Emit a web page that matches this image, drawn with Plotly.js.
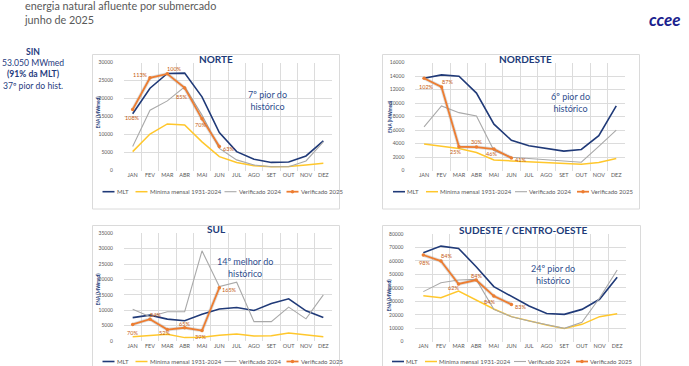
<!DOCTYPE html>
<html><head><meta charset="utf-8">
<script src="https://cdn.plot.ly/plotly-3.0.1.min.js"></script>
<style>html,body{margin:0;padding:0;background:#fff}#chart{width:689px;height:366px}</style>
</head><body><div id="chart"></div>
<script>
// ---------- data ----------
const months = ['JAN','FEV','MAR','ABR','MAI','JUN','JUL','AGO','SET','OUT','NOV','DEZ'];
const seriesNames = ['MLT','Mínima mensal 1931-2024','Verificado 2024','Verificado 2025'];

const norteMLT  = [15800, 22900, 27000, 27100, 20500, 10600, 5300, 3200, 2300, 2400, 4100, 8300];
const norteMin  = [5300, 10200, 13000, 12700, 8000, 3900, 2300, 1400, 1100, 1200, 1600, 2100];
const norte2024 = [6700, 16800, 19400, 23300, 15500, 6200, 3000, 1600, 1100, 1100, 2700, 8000];
const norte2025 = [17000, 25800, 26900, 23000, 14400, 6700];
const norteLbl  = ['108%','113%','100%','85%','70%','63%'];

const nordesteMLT  = [13700, 14200, 14000, 11500, 6900, 4500, 3700, 3300, 2900, 3150, 5200, 9600];
const nordesteMin  = [3950, 3600, 3300, 2700, 1600, 1450, 1350, 1250, 1100, 950, 1200, 1800];
const nordeste2024 = [6500, 9600, 8600, 8100, 3000, 2000, 1800, 1650, 1400, 1250, 3600, 6000];
const nordeste2025 = [13700, 12400, 3550, 3500, 3200, 1900];
const nordesteLbl  = ['102%','87%','25%','30%','46%','41%'];

const sulMLT  = [7600, 8400, 7100, 6600, 8700, 10400, 10900, 9900, 12200, 13700, 9800, 7600];
const sulMin  = [1400, 1700, 2200, 1100, 1200, 1900, 2300, 1600, 1700, 2600, 2000, 1400];
const sul2024 = [10300, 7900, 9500, 9500, 29300, 17700, 19100, 6300, 6300, 11000, 7200, 15000];
const sul2025 = [5400, 7100, 3700, 4300, 3400, 17300];
const sulLbl  = ['70%','84%','52%','65%','39%','165%'];

const sudesteMLT  = [66100, 71000, 69300, 55700, 40900, 33400, 26500, 21000, 20300, 24000, 31500, 47800];
const sudesteMin  = [34200, 32700, 37600, 31000, 24300, 18600, 15400, 12400, 9900, 12900, 18600, 20800];
const sudeste2024 = [37200, 43800, 45800, 46300, 24000, 18600, 15400, 12400, 9900, 14400, 32500, 53300];
const sudeste2025 = [64400, 59900, 42900, 45800, 33900, 27700];
const sudesteLbl  = ['98%','84%','62%','84%','84%','83%'];

const panelTitles = ['NORTE','NORDESTE','SUL','SUDESTE / CENTRO-OESTE'];
const panelNotes  = ['7º pior do<br>histórico','6º pior do<br>histórico','14º melhor do<br>histórico','24º pior do<br>histórico'];
const axisTitle = 'ENA (MWmed)';
const headerText = 'energia natural afluente por submercado<br>junho de 2025';
const sinText = '<b>SIN</b><br>53.050 MWmed<br><b>(91% da MLT)</b><br>37º pior do hist.';

// ---------- style / layout config ----------
const W = 689, H = 366;
const C = {navy:'#203A78', yellow:'#FFC72C', gray:'#A9A9A9', orange:'#ED7D31', lbl:'#C55A11', grid:'#DCDCDC', tick:'#595959', note:'#2F4E8E'};
const FONT = 'Lato, "Open Sans", sans-serif';
const xd = (a,b)=>[a/W, b/W];
const yd = (t,b)=>[1-b/H, 1-t/H];
const seriesStyle = [
  {color:C.navy, width:1.6}, {color:C.yellow, width:1.5}, {color:C.gray, width:1.1}, {color:C.orange, width:1.8}
];
const legOffsets = [0, 33, 122, 184];   // legend entry offsets (px) within each panel legend
const legIcon = 12;

const panels = [
  {ax:'', mlt:norteMLT, min:norteMin, v24:norte2024, v25:norte2025, lbl:norteLbl,
   xdom:xd(124,332), ydom:yd(62.7,170.7), ymax:30000, dtick:5000,
   shift:[[0,-8],[-10,3],[7,5],[-3,-9],[-2,-6],[9,-2]],
   title:[216,58.5], note:[267,101], axt:[97.5,112], legPos:[102.5,191.7], box:[92.5,54.5,339.5,209]},
  {ax:'2', mlt:nordesteMLT, min:nordesteMin, v24:nordeste2024, v25:nordeste2025, lbl:nordesteLbl,
   xdom:xd(415.3,625), ydom:yd(62.7,170.7), ymax:16000, dtick:2000,
   shift:[[2,-9],[6,5],[-3,-5],[0,5],[-2,-5],[9,-2]],
   title:[525.5,58.5], note:[570,103], axt:[390,117], legPos:[393,191.7], box:[382.5,54.5,639.5,209]},
  {ax:'3', mlt:sulMLT, min:sulMin, v24:sul2024, v25:sul2025, lbl:sulLbl,
   xdom:xd(124,332), ydom:yd(233.3,341), ymax:35000, dtick:5000,
   shift:[[0,-9],[5,4],[-3,-3],[0,4],[-2,-6],[10,-2]],
   title:[216,229], note:[245,267], axt:[97.5,289], legPos:[102.5,361.5], box:[92.5,225.5,339.5,380]},
  {ax:'4', mlt:sudesteMLT, min:sudesteMin, v24:sudeste2024, v25:sudeste2025, lbl:sudesteLbl,
   xdom:xd(414.5,626), ydom:yd(234,341.7), ymax:80000, dtick:10000,
   shift:[[1,-8],[6,5],[-5,-4],[0,4],[-4,-6],[9,-3]],
   title:[523,230], note:[553,274.5], axt:[388.5,295], legPos:[392,361.5], box:[382.5,225.5,640.5,380]}
];

const data = [];
const layout = {
  width:W, height:H, margin:{l:0,r:0,t:0,b:0},
  paper_bgcolor:'#fff', plot_bgcolor:'#fff',
  font:{family:FONT, color:C.tick},
  showlegend:false, annotations:[], shapes:[]
};

panels.forEach((p,i)=>{
  const xa = 'x'+p.ax, ya = 'y'+p.ax;
  const mk = (y,name,st,extra)=>Object.assign({
    type:'scatter', mode:'lines', x:months.slice(0,y.length), y:y, name:name,
    xaxis:xa, yaxis:ya, line:{color:st.color,width:st.width}, hoverinfo:'skip'
  }, extra||{});
  data.push(mk(p.mlt, seriesNames[0], seriesStyle[0]));
  data.push(mk(p.min, seriesNames[1], seriesStyle[1]));
  data.push(mk(p.v24, seriesNames[2], seriesStyle[2]));
  data.push(mk(p.v25, 'sombra', {color:'rgba(110,110,110,0.22)', width:3.5}));
  data.push(mk(p.v25, seriesNames[3], seriesStyle[3], {mode:'lines+markers', marker:{symbol:'circle', size:3.5, color:C.orange}}));

  layout['xaxis'+p.ax] = {
    domain:p.xdom, anchor:ya, type:'category', categoryorder:'array', categoryarray:months,
    range:[-0.5,11.5], tickson:'boundaries', showgrid:true, gridcolor:C.grid, gridwidth:1,
    showline:false, zeroline:false, ticks:'outside', ticklen:2, tickcolor:'rgba(0,0,0,0)',
    tickangle:0, tickfont:{size:5.5, color:C.tick, family:FONT}, fixedrange:true
  };
  layout['yaxis'+p.ax] = {
    domain:p.ydom, anchor:xa, range:[0,p.ymax], dtick:p.dtick, tickformat:'d',
    showgrid:true, gridcolor:C.grid, gridwidth:1, zeroline:false, showline:false,
    ticks:'outside', ticklen:9, tickcolor:'rgba(0,0,0,0)',
    tickfont:{size:5, color:C.tick, family:FONT}, fixedrange:true
  };
  // panel border
  layout.shapes.push({type:'rect', xref:'paper', yref:'paper',
    x0:p.box[0]/W, x1:p.box[2]/W, y0:1-p.box[3]/H, y1:1-p.box[1]/H,
    line:{color:'#DADADA', width:1}, fillcolor:'rgba(0,0,0,0)', layer:'below'});
  // panel title
  layout.annotations.push({xref:'paper', yref:'paper', x:p.title[0]/W, y:1-p.title[1]/H,
    text:'<b>'+panelTitles[i]+'</b>', showarrow:false, xanchor:'center', yanchor:'middle',
    font:{size:10, color:C.navy, family:FONT}});
  // y axis title
  layout.annotations.push({xref:'paper', yref:'paper', x:p.axt[0]/W, y:1-p.axt[1]/H,
    text:'<b>'+axisTitle+'</b>', showarrow:false, textangle:-90, xanchor:'center', yanchor:'middle',
    font:{size:4.8, color:C.navy, family:FONT}});
  // note
  layout.annotations.push({xref:'paper', yref:'paper', x:p.note[0]/W, y:1-p.note[1]/H,
    text:panelNotes[i], showarrow:false, xanchor:'center', yanchor:'middle', align:'center',
    font:{size:9, color:C.note, family:FONT}});
  // percentage labels
  p.v25.forEach((v,k)=>{
    layout.annotations.push({xref:xa, yref:ya, x:months[k], y:v, text:p.lbl[k], showarrow:false,
      xanchor:'center', yanchor:'middle', xshift:p.shift[k][0], yshift:p.shift[k][1],
      font:{size:5.5, color:C.lbl, family:FONT}});
  });
  // legend (one row under each panel)
  seriesNames.forEach((name,k)=>{
    const x0 = p.legPos[0] + legOffsets[k], yy = 1 - p.legPos[1]/H;
    layout.shapes.push({type:'line', xref:'paper', yref:'paper', x0:x0/W, x1:(x0+legIcon)/W, y0:yy, y1:yy,
      line:{color:seriesStyle[k].color, width:seriesStyle[k].width}});
    if(k===3){
      const cx = x0 + legIcon/2, r = 1.7;
      layout.shapes.push({type:'circle', xref:'paper', yref:'paper', x0:(cx-r)/W, x1:(cx+r)/W,
        y0:yy-r/H, y1:yy+r/H, fillcolor:C.orange, line:{width:0}});
    }
    layout.annotations.push({xref:'paper', yref:'paper', x:(x0+legIcon)/W, y:yy, xanchor:'left', yanchor:'middle',
      text:name, showarrow:false, font:{size:6, color:C.tick, family:FONT}});
  });
});

// header texts
layout.annotations.push({xref:'paper', yref:'paper', x:22/W, y:1-12.5/H, xanchor:'left', yanchor:'middle', align:'left',
  text:headerText, showarrow:false, font:{size:10.8, color:'#595959', family:FONT}});
layout.annotations.push({xref:'paper', yref:'paper', x:683/W, y:1-20/H, xanchor:'right', yanchor:'middle',
  text:'ccee', showarrow:false, font:{size:17, color:'#1B1F8E', family:FONT, weight:'bold', style:'italic'}});
layout.annotations.push({xref:'paper', yref:'paper', x:33/W, y:1-69.5/H, xanchor:'center', yanchor:'middle', align:'center',
  text:sinText, showarrow:false, font:{size:8.6, color:'#1F3B7E', family:FONT}});

Plotly.newPlot('chart', data, layout, {displayModeBar:false, staticPlot:true});
</script></body></html>
